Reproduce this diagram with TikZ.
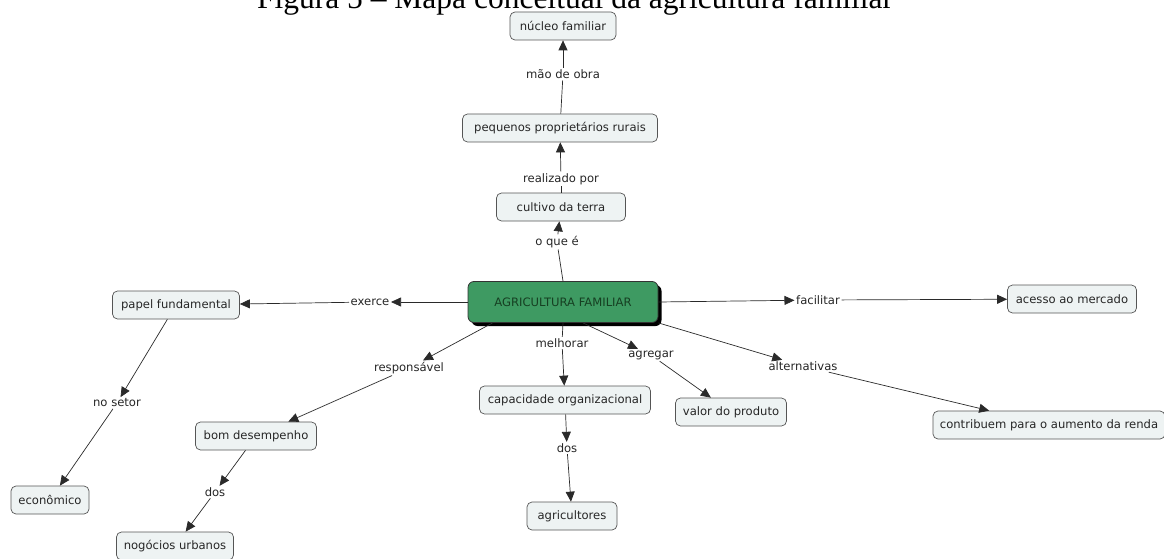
\documentclass[tikz,border=0pt]{standalone}
\usepackage{fontspec}
\setmainfont{Liberation Serif}
\newfontfamily\mapfont{DejaVu Sans}
\usetikzlibrary{arrows.meta,shadows}
\definecolor{boxfill}{HTML}{EEF3F3}
\definecolor{boxdraw}{HTML}{555555}
\definecolor{agfill}{HTML}{3E9A62}
\definecolor{agtext}{HTML}{163F22}
\definecolor{linecol}{HTML}{2A2A2A}
\tikzset{
  mapfontsize/.style={font=\mapfont\fontsize{11.6}{13}\selectfont},
  concept/.style={draw=boxdraw, fill=boxfill, rounded corners=5pt, line width=0.7pt,
    minimum height=28pt, inner xsep=6pt, mapfontsize, text=black!85},
  mainconcept/.style={draw=black!80, fill=agfill, rounded corners=6pt, line width=0.8pt,
    minimum height=41pt, minimum width=190pt, mapfontsize, text=agtext,
    drop shadow={shadow xshift=3.5pt, shadow yshift=-3.5pt, fill=black, opacity=1}},
  linklabel/.style={fill=white, inner sep=1.5pt, mapfontsize, text=black!85},
  conn/.style={draw=linecol, line width=0.7pt},
  arr/.style={conn, -{Triangle[length=10pt,width=9pt]}},
}
\begin{document}
\begin{tikzpicture}[x=1pt,y=-1pt]
\useasboundingbox (0,0) rectangle (1164,559);
\begin{scope}
\clip (0,0) rectangle (1164,559);
\node[anchor=base, inner sep=0pt, font=\fontsize{31.5}{36}\selectfont] (title) at (575,8.5) {Figura 5 -- Mapa conceitual da agricultura familiar};
\end{scope}

% concepts
\node[mainconcept] (ag) at (563,302) {AGRICULTURA FAMILIAR};
\node[concept, minimum width=106pt] (nucleo) at (563,26) {núcleo familiar};
\node[concept, minimum width=195pt] (peq) at (560,128) {pequenos proprietários rurais};
\node[concept, minimum width=129pt] (cult) at (561,207) {cultivo da terra};
\node[concept, minimum width=127pt] (papel) at (176,305) {papel fundamental};
\node[concept, minimum width=129pt] (acesso) at (1072,299) {acesso ao mercado};
\node[concept, minimum width=121pt] (bom) at (256,436) {bom desempenho};
\node[concept, minimum width=171pt] (cap) at (565,400) {capacidade organizacional};
\node[concept, minimum width=111pt] (valor) at (731,412) {valor do produto};
\node[concept, minimum width=232pt] (contrib) at (1049,425) {contribuem para o aumento da renda};
\node[concept, minimum width=78pt] (econ) at (50,500) {econômico};
\node[concept, minimum width=90pt] (agric) at (572,516) {agricultores};
\node[concept, minimum width=117pt] (neg) at (175,546) {nogócios urbanos};

% link labels
\node[linklabel] (l-mao) at (563,74) {mão de obra};
\node[linklabel] (l-real) at (561,179) {realizado por};
\node[linklabel] (l-oque) at (557,242) {o que é};
\node[linklabel] (l-exerce) at (370,302) {exerce};
\node[linklabel] (l-facil) at (818,300) {facilitar};
\node[linklabel] (l-resp) at (409,368) {responsável};
\node[linklabel] (l-melh) at (562,343) {melhorar};
\node[linklabel] (l-agreg) at (651,355) {agregar};
\node[linklabel] (l-alt) at (803,366) {alternativas};
\node[linklabel] (l-setor) at (117,403) {no setor};
\node[linklabel] (l-dos1) at (567,448) {dos};
\node[linklabel] (l-dos2) at (215,492) {dos};

% connectors
\draw[conn] (ag.north) -- (l-oque);
\draw[arr] (l-oque) -- (cult);
\draw[conn] (cult) -- (l-real);
\draw[arr] (l-real) -- (peq);
\draw[conn] (peq) -- (l-mao);
\draw[arr] (l-mao) -- (nucleo);
\draw[arr] (ag.west) -- (l-exerce);
\draw[arr] (l-exerce) -- (papel);
\draw[arr] (ag.east) -- (l-facil);
\draw[arr] (l-facil) -- (acesso);
\draw[arr] (ag.south west) ++(25,0) coordinate (agsw) (agsw) -- (l-resp);
\draw[arr] (l-resp) -- (bom);
\draw[conn] (ag.south) -- (l-melh);
\draw[arr] (l-melh) -- (cap);
\draw[arr] (ag.south) ++(20,0) coordinate (ags) (ags) -- (l-agreg);
\draw[arr] (l-agreg) -- (valor);
\draw[arr] (ag.south east) -- (l-alt);
\draw[arr] (l-alt) -- (contrib);
\draw[arr] (papel) -- (l-setor);
\draw[arr] (l-setor) -- (econ);
\draw[arr] (bom) -- (l-dos2);
\draw[arr] (l-dos2) -- (neg);
\draw[arr] (cap) -- (l-dos1);
\draw[arr] (l-dos1) -- (agric);
\end{tikzpicture}
\end{document}
